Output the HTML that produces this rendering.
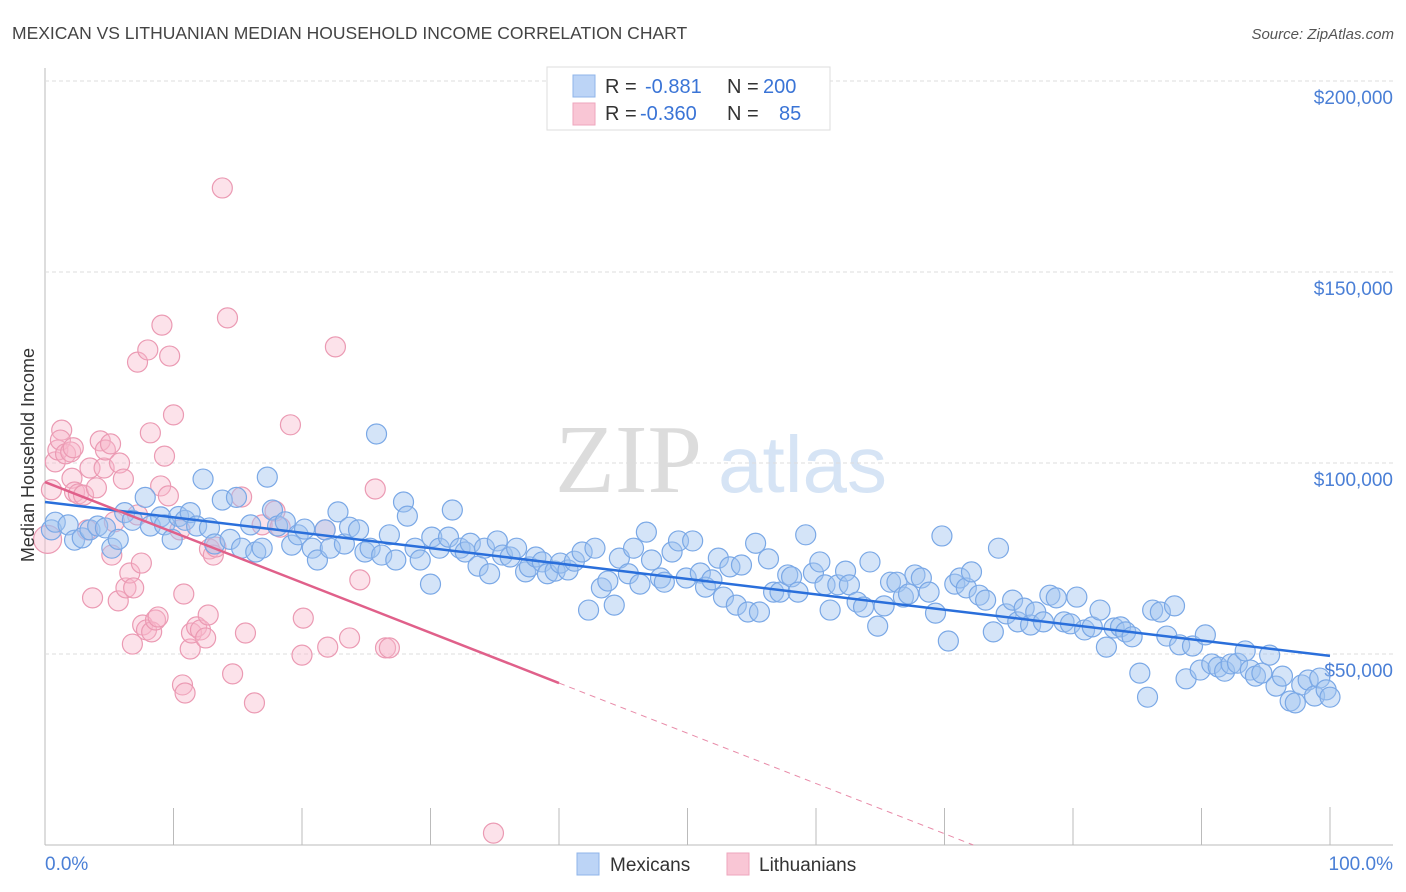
<!DOCTYPE html>
<html><head><meta charset="utf-8">
<style>
body{margin:0;background:#fff;font-family:"Liberation Sans",sans-serif;}
#wrap{position:relative;width:1406px;height:892px;overflow:hidden;}
</style></head>
<body>
<div id="wrap">
<svg id="svg" width="1406" height="892" xmlns="http://www.w3.org/2000/svg">
<text x="12" y="39" font-size="17.5" fill="#444">MEXICAN VS LITHUANIAN MEDIAN HOUSEHOLD INCOME CORRELATION CHART</text>
<text x="1394" y="39" font-size="15" fill="#555" font-style="italic" text-anchor="end">Source: ZipAtlas.com</text>
<text x="555" y="492" font-size="98" fill="#dcdcdc" font-family="Liberation Serif,serif">ZIP</text>
<text x="718" y="492" font-size="80" fill="#d6e4f5">atlas</text>
<g id="grid"></g>
<g id="pts"></g>
<g id="trend"></g>
<text transform="translate(34,455) rotate(-90)" font-size="18" fill="#333" text-anchor="middle">Median Household Income</text>
<text x="45" y="870" font-size="19" fill="#4a7fd6">0.0%</text>
<text x="1393" y="870" font-size="19" fill="#4a7fd6" text-anchor="end">100.0%</text>
<g>
<rect x="547" y="67" width="283" height="63" fill="#fff" stroke="#ddd"/>
<rect x="573" y="75" width="22" height="22" fill="#bcd4f6" stroke="#8fb4ea"/>
<rect x="573" y="103" width="22" height="22" fill="#f9c6d5" stroke="#eea6bd"/>
<text x="605" y="93" font-size="20" fill="#333">R = </text>
<text x="645" y="93" font-size="20" fill="#3a74d6">-0.881</text>
<text x="727" y="93" font-size="20" fill="#333">N =</text>
<text x="763" y="93" font-size="20" fill="#3a74d6">200</text>
<text x="605" y="120" font-size="20" fill="#333">R = </text>
<text x="640" y="120" font-size="20" fill="#3a74d6">-0.360</text>
<text x="727" y="120" font-size="20" fill="#333">N =</text>
<text x="779" y="120" font-size="20" fill="#3a74d6">85</text>
</g>
<g>
<rect x="577" y="853" width="22" height="22" fill="#bcd4f6" stroke="#8fb4ea"/>
<text x="610" y="871" font-size="19" fill="#333">Mexicans</text>
</g>
<g>
<rect x="727" y="853" width="22" height="22" fill="#f9c6d5" stroke="#eea6bd"/>
<text x="759" y="871" font-size="19" fill="#333">Lithuanians</text>
</g>
</svg>
</div>
<script>
const yTicks=[50000,100000,150000,200000];
const yTickLabels=["$50,000","$100,000","$150,000","$200,000"];
const xTicks=[0,10,20,30,40,50,60,70,80,90,100];
const mexX=[0.5,0.8,1.8,2.3,2.9,3.5,4.1,4.7,5.2,5.7,6.2,6.8,7.8,8.2,9,9.3,9.9,10.4,10.9,11.3,11.8,12.3,12.8,13.2,13.8,14.4,14.9,15.3,16,16.4,16.9,17.3,17.7,18.1,18.7,19.2,19.7,20.2,20.8,21.2,21.8,22.2,22.8,23.3,23.7,24.4,24.9,25.3,25.8,26.2,26.8,27.3,27.9,28.2,28.8,29.2,30,30.1,30.7,31.4,31.7,32.3,32.7,33.1,33.7,34.2,34.6,35.2,35.6,36.2,36.7,37.4,37.7,38.2,38.7,39.1,39.7,40.1,40.7,41.2,41.8,42.3,42.8,43.3,43.8,44.3,44.7,45.4,45.8,46.3,46.8,47.2,47.9,48.2,48.8,49.3,49.9,50.4,51,51.4,51.9,52.4,52.8,53.3,53.8,54.2,54.7,55.3,55.6,56.3,56.7,57.2,57.8,58.1,58.6,59.2,59.8,60.3,60.7,61.1,61.7,62.3,62.6,63.2,63.7,64.2,64.8,65.3,65.8,66.3,66.8,67.2,67.7,68.2,68.8,69.3,69.8,70.3,70.8,71.2,71.7,72.1,72.7,73.2,73.8,74.2,74.8,75.3,75.7,76.2,76.7,77.1,77.7,78.2,78.7,79.3,79.8,80.3,80.9,81.5,82.1,82.6,83.2,83.7,84.1,84.6,85.2,85.8,86.2,86.8,87.3,87.9,88.3,88.8,89.3,89.9,90.3,90.8,91.3,91.8,92.3,92.8,93.4,93.8,94.2,94.7,95.3,95.8,96.3,96.9,97.3,97.8,98.3,98.8,99.2,99.7,100];
const mexY=[82.5,84.5,83.8,79.8,80.4,82.5,83.5,83,77.7,80,87,85,91,83.5,85.9,83.8,80,86,85,87,83.5,95.8,83,78.8,90.3,80,91,77.7,83.8,76.7,77.7,96.3,87.7,83.5,84.6,78.5,81.2,82.7,77.7,74.6,82.5,77.7,87.2,78.8,83.2,82.5,76.7,77.7,107.6,75.9,81.2,74.6,89.8,86.1,77.7,74.6,68.3,80.6,77.7,80.6,87.7,77.7,76.7,79,73,77.7,71,79.6,75.9,75.4,77.7,71.5,72.8,75.4,74.1,71,71.7,73.8,72,74.3,76.7,61.5,77.7,67.3,69.1,62.8,75.1,71,77.7,68.3,81.9,74.6,69.9,68.8,76.7,79.6,69.9,79.6,71.2,67.5,69.4,75.1,64.9,72.8,62.8,73.3,61,79,61,74.9,66.2,66.2,70.7,70.2,66.2,81.2,71.2,74.1,68.1,61.5,68.1,71.7,68.1,63.6,62.3,74.1,57.3,62.6,68.8,68.8,64.9,65.7,70.7,69.9,66.2,60.7,80.9,53.4,68.3,69.9,67.3,71.5,65.4,64.1,55.8,77.7,60.5,64.1,58.4,62,57.6,61,58.4,65.4,64.7,58.4,57.9,64.9,56.3,57.1,61.5,51.8,56.8,57.1,55.8,54.5,45,38.7,61.5,61,54.7,62.6,52.4,43.5,52.1,45.8,55,47.4,46.6,45.5,47.4,47.6,50.8,45.8,44.2,45,49.7,41.6,44.2,37.7,37.2,41.9,43.2,39,43.7,40.6,38.7];
const litX=[0.2,0.5,0.8,1,1.3,1.2,1.6,2,2.2,2.1,2.3,2.6,3,3.3,3.5,3.7,4,4.3,4.6,4.7,5.1,5.2,5.4,5.7,5.8,6.1,6.3,6.6,6.8,6.9,7.2,7.2,7.5,7.6,7.9,8,8.2,8.3,8.6,8.8,9,9.1,9.3,9.6,9.7,10,10.5,10.7,10.8,10.9,11.3,11.4,11.8,12.1,12.5,12.7,12.8,13.1,13.3,13.8,14.2,14.6,15.3,15.6,16.3,16.9,17.9,18.3,19.1,20,20.1,21.8,22,22.6,23.7,24.5,25.7,26.5,26.8,34.9];
const litY=[80,93,100.3,103.4,108.6,106,102.4,102.9,104,96,92.4,91.9,91.6,82.5,98.7,64.7,93.5,105.8,98.7,103.4,105,75.9,84.6,63.9,100,95.8,67.3,71.2,52.6,67.3,126.4,86.4,73.8,57.6,56.3,129.6,107.9,55.8,58.9,59.7,94,136.1,101.8,91.4,128,112.6,82.5,41.9,65.7,39.8,51.3,55.5,57.1,56.3,54.2,60.2,77.5,75.9,78,172,138,44.8,91.1,55.5,37.2,83.8,87.4,83.2,110,49.7,59.4,82.5,51.8,130.4,54.2,69.4,93.2,51.6,51.6,3.1];
const mexTrend=[89.8,49.5]; // value at 0% and 100%
const litTrend=[95,-1.315]; // intercept (k), slope per %
const NS="http://www.w3.org/2000/svg";
const X0=45,X1=1330,YB=845;
const sx=v=>X0+(X1-X0)*v/100;
const sy=v=>YB-v*191/50000;
function mk(t,a,p){const e=document.createElementNS(NS,t);for(const k in a)e.setAttribute(k,a[k]);p.appendChild(e);return e;}
const grid=document.getElementById('grid');
mk('line',{x1:45,y1:68,x2:45,y2:845,stroke:'#bbb'},grid);
mk('line',{x1:45,y1:845,x2:1393,y2:845,stroke:'#bbb'},grid);
yTicks.forEach((t,i)=>{
 const l=mk('line',{x1:45,y1:sy(t),x2:1393,y2:sy(t),stroke:'#ddd','stroke-dasharray':'4,3'},grid);
 
 
 const tx=mk('text',{x:1393,y:sy(t)+23,'font-size':19,fill:'#4a7fd6','text-anchor':'end'},grid);
 tx.textContent=yTickLabels[i];
 
 
});
xTicks.forEach(t=>{
 const l=mk('line',{x1:sx(t),y1:t==100?807:808,x2:sx(t),y2:845,stroke:'#bbb'},grid);
 
 
});
const pts=document.getElementById('pts');
litX.forEach((x,i)=>{
 const c=mk('circle',{cx:sx(x),cy:sy(litY[i]*1000),r:i==0?14:10,fill:'rgba(248,182,202,0.4)',stroke:'#eb9ab3','stroke-width':1.2},pts);
 
 
});
mexX.forEach((x,i)=>{
 const c=mk('circle',{cx:sx(x),cy:sy(mexY[i]*1000),r:10,fill:'rgba(160,196,240,0.45)',stroke:'#7aa8e6','stroke-width':1.2},pts);
 
 
});
const tr=document.getElementById('trend');
const b=mk('line',{x1:sx(0),y1:sy(mexTrend[0]*1000),x2:sx(100),y2:sy(mexTrend[1]*1000),stroke:'#2a6fdb','stroke-width':2.5},tr);


const lv=x=>litTrend[0]+litTrend[1]*x;
const p1=mk('line',{x1:sx(0),y1:sy(lv(0)*1000),x2:sx(40),y2:sy(lv(40)*1000),stroke:'#e0608a','stroke-width':2.5},tr);


const xz=-litTrend[0]/litTrend[1];
const p2=mk('line',{x1:sx(40),y1:sy(lv(40)*1000),x2:sx(xz),y2:sy(0),stroke:'#e88aa8','stroke-width':1,'stroke-dasharray':'6,5'},tr);


</script>
</body></html>
